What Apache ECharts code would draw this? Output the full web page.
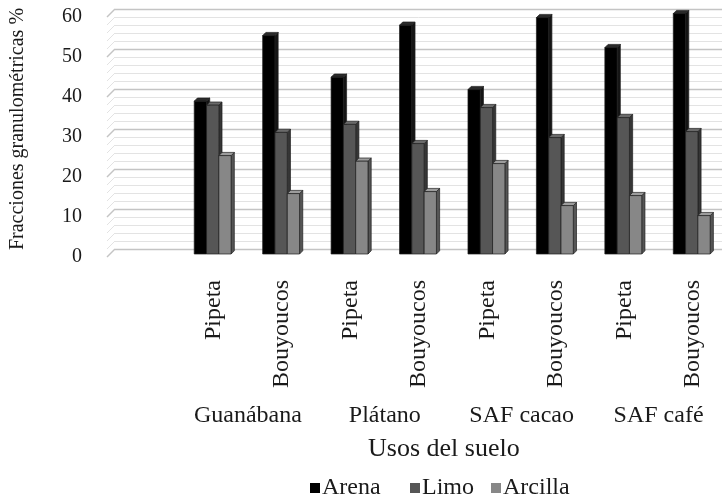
<!DOCTYPE html>
<html>
<head>
<meta charset="utf-8">
<script src="https://cdn.jsdelivr.net/npm/echarts@6/dist/echarts.min.js"></script>
<style>html,body{margin:0;padding:0;background:#fff;}#c{width:727px;height:502px;}</style>
</head>
<body>
<div id="c"></div>
<script>
var methods = ['Pipeta', 'Bouyoucos', 'Pipeta', 'Bouyoucos', 'Pipeta', 'Bouyoucos', 'Pipeta', 'Bouyoucos'];
var groups = ['Guanábana', 'Plátano', 'SAF cacao', 'SAF café'];
var seriesNames = ['Arena', 'Limo', 'Arcilla'];
var arena = [38.2, 54.6, 44.2, 57.2, 41.1, 59.1, 51.6, 60.1];
var limo = [37.2, 30.4, 32.4, 27.6, 36.6, 29.1, 34.1, 30.6];
var arcilla = [24.6, 15.1, 23.2, 15.6, 22.6, 12.1, 14.6, 9.6];
var yTicks = [0, 10, 20, 30, 40, 50, 60];
var wallLines = [0, 2, 4, 6, 8, 10, 12, 14, 16, 18, 20, 22, 24, 26, 28, 30, 32, 34, 36, 38, 40, 42, 44, 46, 48, 50, 52, 54, 56, 58, 60];

var FONT = 'Liberation Serif';
var palette = [
  {front: '#000000', side: '#151515', top: '#2a2a2a'},
  {front: '#565656', side: '#363636', top: '#6a6a6a'},
  {front: '#878787', side: '#555555', top: '#9c9c9c'}
];
var allValues = [arena, limo, arcilla];

function barRender(idx) {
  var c = palette[idx];
  return function (params, api) {
    var cat = api.value(0), v = api.value(1);
    var base = api.coord([cat, 0]);
    var top = api.coord([cat, v]);
    var bw = 12.3, d = 3.2;
    var x0 = base[0] - 19.5 + idx * bw;
    var t = top[1], b = base[1];
    return {
      type: 'group',
      children: [
        {type: 'polygon', shape: {points: [[x0 + bw, t], [x0 + bw + d, t - d], [x0 + bw + d, b - d], [x0 + bw, b]]},
         style: {fill: c.side, stroke: '#1e1e1e', lineWidth: 0.7}},
        {type: 'polygon', shape: {points: [[x0, t], [x0 + d, t - d], [x0 + bw + d, t - d], [x0 + bw, t]]},
         style: {fill: c.top, stroke: '#1e1e1e', lineWidth: 0.7}},
        {type: 'rect', shape: {x: x0, y: t, width: bw, height: b - t},
         style: {fill: c.front, stroke: '#1e1e1e', lineWidth: 0.7}}
      ]
    };
  };
}

function slantRender(params, api) {
  var v = api.value(0);
  var p = api.coord([0, v]);
  var major = (yTicks.indexOf(v) >= 0);
  return {
    type: 'line',
    shape: {x1: p[0] - 8, y1: p[1] + 8, x2: p[0], y2: p[1]},
    style: {stroke: major ? '#c4c4c4' : '#e3e3e3', lineWidth: major ? 1.4 : 1}
  };
}

var series = [{
  type: 'custom', name: 'wall', xAxisIndex: 0, yAxisIndex: 0,
  renderItem: slantRender, silent: true,
  data: wallLines.map(function (v) { return [v]; }),
  encode: {y: 0}
}];
seriesNames.forEach(function (n, i) {
  series.push({
    type: 'custom', name: n, xAxisIndex: 1, yAxisIndex: 1,
    renderItem: barRender(i),
    itemStyle: {color: palette[i].front},
    data: allValues[i].map(function (v, k) { return [k, v]; }),
    encode: {x: 0, y: 1}
  });
});

var legendLeft = [305, 405, 486];
var legends = seriesNames.map(function (n, i) {
  return {
    data: [n], top: 471, left: legendLeft[i], itemWidth: 10, itemHeight: 10,
    icon: 'rect', textStyle: {fontSize: 24, color: '#1a1a1a', fontFamily: FONT, padding: [21, 0, 0, -3]}
  };
});

var chart = echarts.init(document.getElementById('c'), null, {renderer: 'canvas'});
chart.setOption({
  animation: false,
  backgroundColor: '#ffffff',
  textStyle: {fontFamily: FONT},
  grid: [
    {left: 113, right: 5, top: 9, height: 240},
    {left: 179.5, width: 552, top: 14, height: 240},
    {left: 105, width: 10, top: 17, height: 240}
  ],
  xAxis: [
    {gridIndex: 0, type: 'value', min: 0, max: 1, show: false},
    {gridIndex: 1, type: 'category', data: methods,
     axisLine: {show: false}, axisTick: {show: false},
     axisLabel: {rotate: 90, fontSize: 24, color: '#1a1a1a', margin: 26, fontFamily: FONT, interval: 0}},
    {gridIndex: 1, type: 'category', data: groups, position: 'bottom', offset: 142,
     axisLine: {show: false}, axisTick: {show: false},
     axisLabel: {fontSize: 24, color: '#1a1a1a', margin: 8, fontFamily: FONT, interval: 0}},
    {gridIndex: 2, type: 'value', min: 0, max: 1, show: false}
  ],
  yAxis: [
    {gridIndex: 0, type: 'value', min: 0, max: 60, interval: 10,
     name: 'Fracciones granulométricas %', nameLocation: 'middle', nameGap: 87, nameRotate: 90,
     nameTextStyle: {fontSize: 20, color: '#1a1a1a', fontFamily: FONT},
     axisLine: {show: false}, axisTick: {show: false}, axisLabel: {show: false},
     splitLine: {show: true, lineStyle: {color: '#c4c4c4', width: 1.4}},
     minorTick: {show: false, splitNumber: 5},
     minorSplitLine: {show: true, lineStyle: {color: '#e3e3e3', width: 1}}},
    {gridIndex: 1, type: 'value', min: 0, max: 60, show: false},
    {gridIndex: 2, type: 'value', min: yTicks[0], max: yTicks[yTicks.length - 1], interval: 10,
     axisLine: {show: false}, axisTick: {show: false}, splitLine: {show: false},
     axisLabel: {fontSize: 20, color: '#1a1a1a', margin: 23, fontFamily: FONT}}
  ],
  legend: legends,
  graphic: [{
    type: 'text', left: 368, top: 436,
    style: {text: 'Usos del suelo', font: '26px "Liberation Serif"', fill: '#1a1a1a'}
  }],
  series: series
});
</script>
</body>
</html>
